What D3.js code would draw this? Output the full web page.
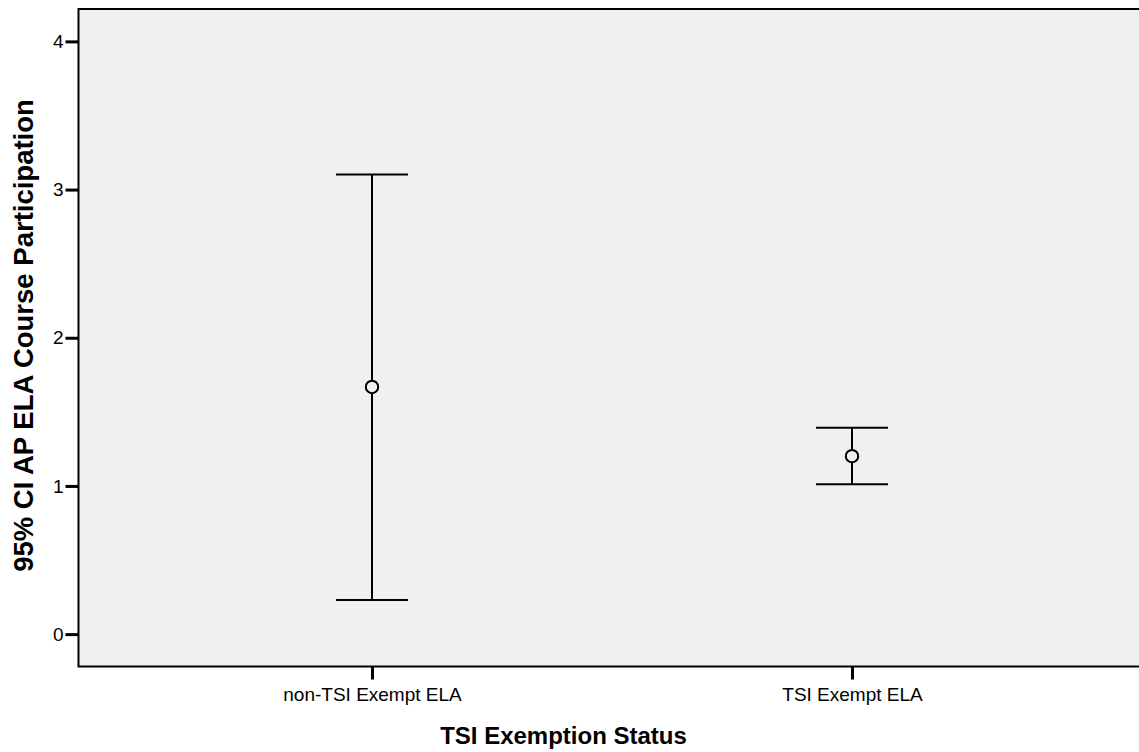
<!DOCTYPE html>
<html><head><meta charset="utf-8">
<script src="https://cdn.jsdelivr.net/npm/d3@7"></script>
<style>body{margin:0;background:#fff}svg{display:block}text{font-family:"Liberation Sans",Arial,sans-serif}</style>
</head><body>
<svg id="c" width="1139" height="752"></svg>
<script>
const categories = ["non-TSI Exempt ELA", "TSI Exempt ELA"];
const means = [1.668, 1.201];
const lowers = [0.231, 1.012];
const uppers = [3.101, 1.392];
const yTicks = [0, 1, 2, 3, 4];
const xTitle = "TSI Exemption Status";
const yTitle = "95% CI AP ELA Course Participation";

const svg = d3.select("#c");
const L = 78.5, T = 9, R = 1139, B = 666.5;
const y = d3.scaleLinear().domain([-0.2185, 4.2185]).range([B, T]);
const x = d3.scalePoint().domain(categories).range([372, 852]).padding(0);

svg.append("rect").attr("x", L).attr("y", T).attr("width", R - L + 2).attr("height", B - T)
  .attr("fill", "#f0f0f0").attr("stroke", "#000").attr("stroke-width", 2);

const ya = svg.append("g").attr("transform", `translate(${L},0)`)
  .call(d3.axisLeft(y).tickValues(yTicks).tickFormat(d3.format("d")).tickSize(13).tickPadding(2));
ya.select(".domain").remove();
ya.selectAll(".tick line").attr("stroke", "#000").attr("stroke-width", 3);
ya.selectAll(".tick text").style("font-size", "19px").attr("fill", "#000");

const xa = svg.append("g").attr("transform", `translate(0,${B})`)
  .call(d3.axisBottom(x).tickSize(13).tickPadding(8));
xa.select(".domain").remove();
xa.selectAll(".tick line").attr("stroke", "#000").attr("stroke-width", 3);
xa.selectAll(".tick text").style("font-size", "19px").attr("fill", "#000");

const data = categories.map((c, i) => ({c, m: means[i], lo: lowers[i], hi: uppers[i]}));
const g = svg.append("g").attr("stroke", "#000").attr("stroke-width", 2).attr("fill", "none");
const cap = 36;
data.forEach(d => {
  const cx = x(d.c);
  g.append("line").attr("x1", cx).attr("x2", cx).attr("y1", y(d.hi)).attr("y2", y(d.lo));
  g.append("line").attr("x1", cx - cap).attr("x2", cx + cap).attr("y1", y(d.hi)).attr("y2", y(d.hi));
  g.append("line").attr("x1", cx - cap).attr("x2", cx + cap).attr("y1", y(d.lo)).attr("y2", y(d.lo));
  g.append("circle").attr("cx", cx).attr("cy", y(d.m)).attr("r", 6.2).attr("fill", "#f0f0f0");
});

svg.append("text").attr("x", (441 + 686) / 2).attr("y", 744).attr("text-anchor", "middle")
  .attr("font-size", 24).attr("font-weight", "bold").text(xTitle);
svg.append("text").attr("transform", "translate(33,335.5) rotate(-90)").attr("text-anchor", "middle")
  .attr("font-size", 27.5).attr("font-weight", "bold").text(yTitle);
</script>
</body></html>
